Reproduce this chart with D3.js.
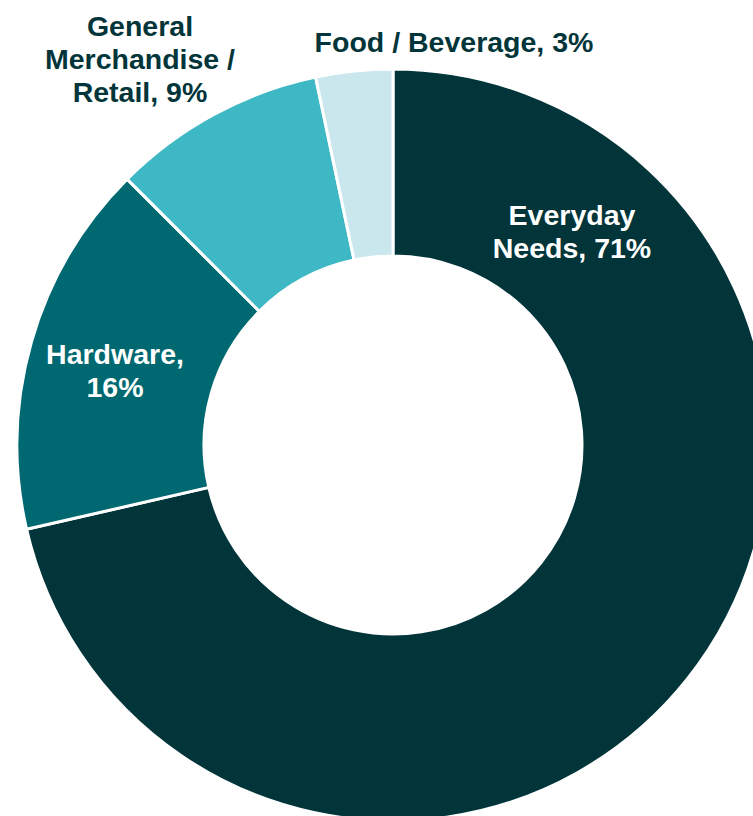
<!DOCTYPE html>
<html>
<head>
<meta charset="utf-8">
<script src="https://cdn.jsdelivr.net/npm/d3@7"></script>
<style>
  html, body { margin: 0; padding: 0; background: #fff; overflow: hidden; }
  svg text { font-family: "Liberation Sans", Arial, sans-serif; font-weight: bold; }
</style>
</head>
<body>
<svg id="chart" width="753" height="816"></svg>
<script>
// Segments, clockwise from 12 o'clock
const categories = ["Everyday Needs", "Hardware", "General Merchandise / Retail", "Food / Beverage"];
const shares = [71.4, 16.1, 9.2, 3.3];
const shareLabels = ["71%", "16%", "9%", "3%"];
const labelLines = [
  ["Everyday", "Needs, 71%"],
  ["Hardware,", "16%"],
  ["General", "Merchandise /", "Retail, 9%"],
  ["Food / Beverage, 3%"]
];
const colors = ["#02353a", "#006870", "#3db8c4", "#c9e7ec"];

const svg = d3.select("#chart");
const cx = 393, cy = 445;
const outerR = 376, innerR = 189;

const pie = d3.pie().sort(null).value(d => d);
const arc = d3.arc().innerRadius(innerR).outerRadius(outerR);

const g = svg.append("g").attr("transform", `translate(${cx},${cy})`);

g.selectAll("path")
  .data(pie(shares))
  .enter().append("path")
    .attr("d", arc)
    .attr("fill", (d, i) => colors[i])
    .attr("stroke", "#fff")
    .attr("stroke-width", 3);

// label anchor: [x, baseline of first line, fill]
const labelPos = [
  [572, 225, "#fff"],
  [115, 364, "#fff"],
  [140, 36, "#02353a"],
  [454, 52, "#02353a"]
];
const lineH = 33;

labelLines.forEach((lines, i) => {
  const [x, y, fill] = labelPos[i];
  const t = svg.append("text")
    .attr("x", x)
    .attr("y", y)
    .attr("text-anchor", "middle")
    .attr("font-size", 28.5)
    .attr("fill", fill);
  lines.forEach((line, j) => {
    t.append("tspan").attr("x", x).attr("dy", j === 0 ? 0 : lineH).text(line);
  });
});
</script>
</body>
</html>
